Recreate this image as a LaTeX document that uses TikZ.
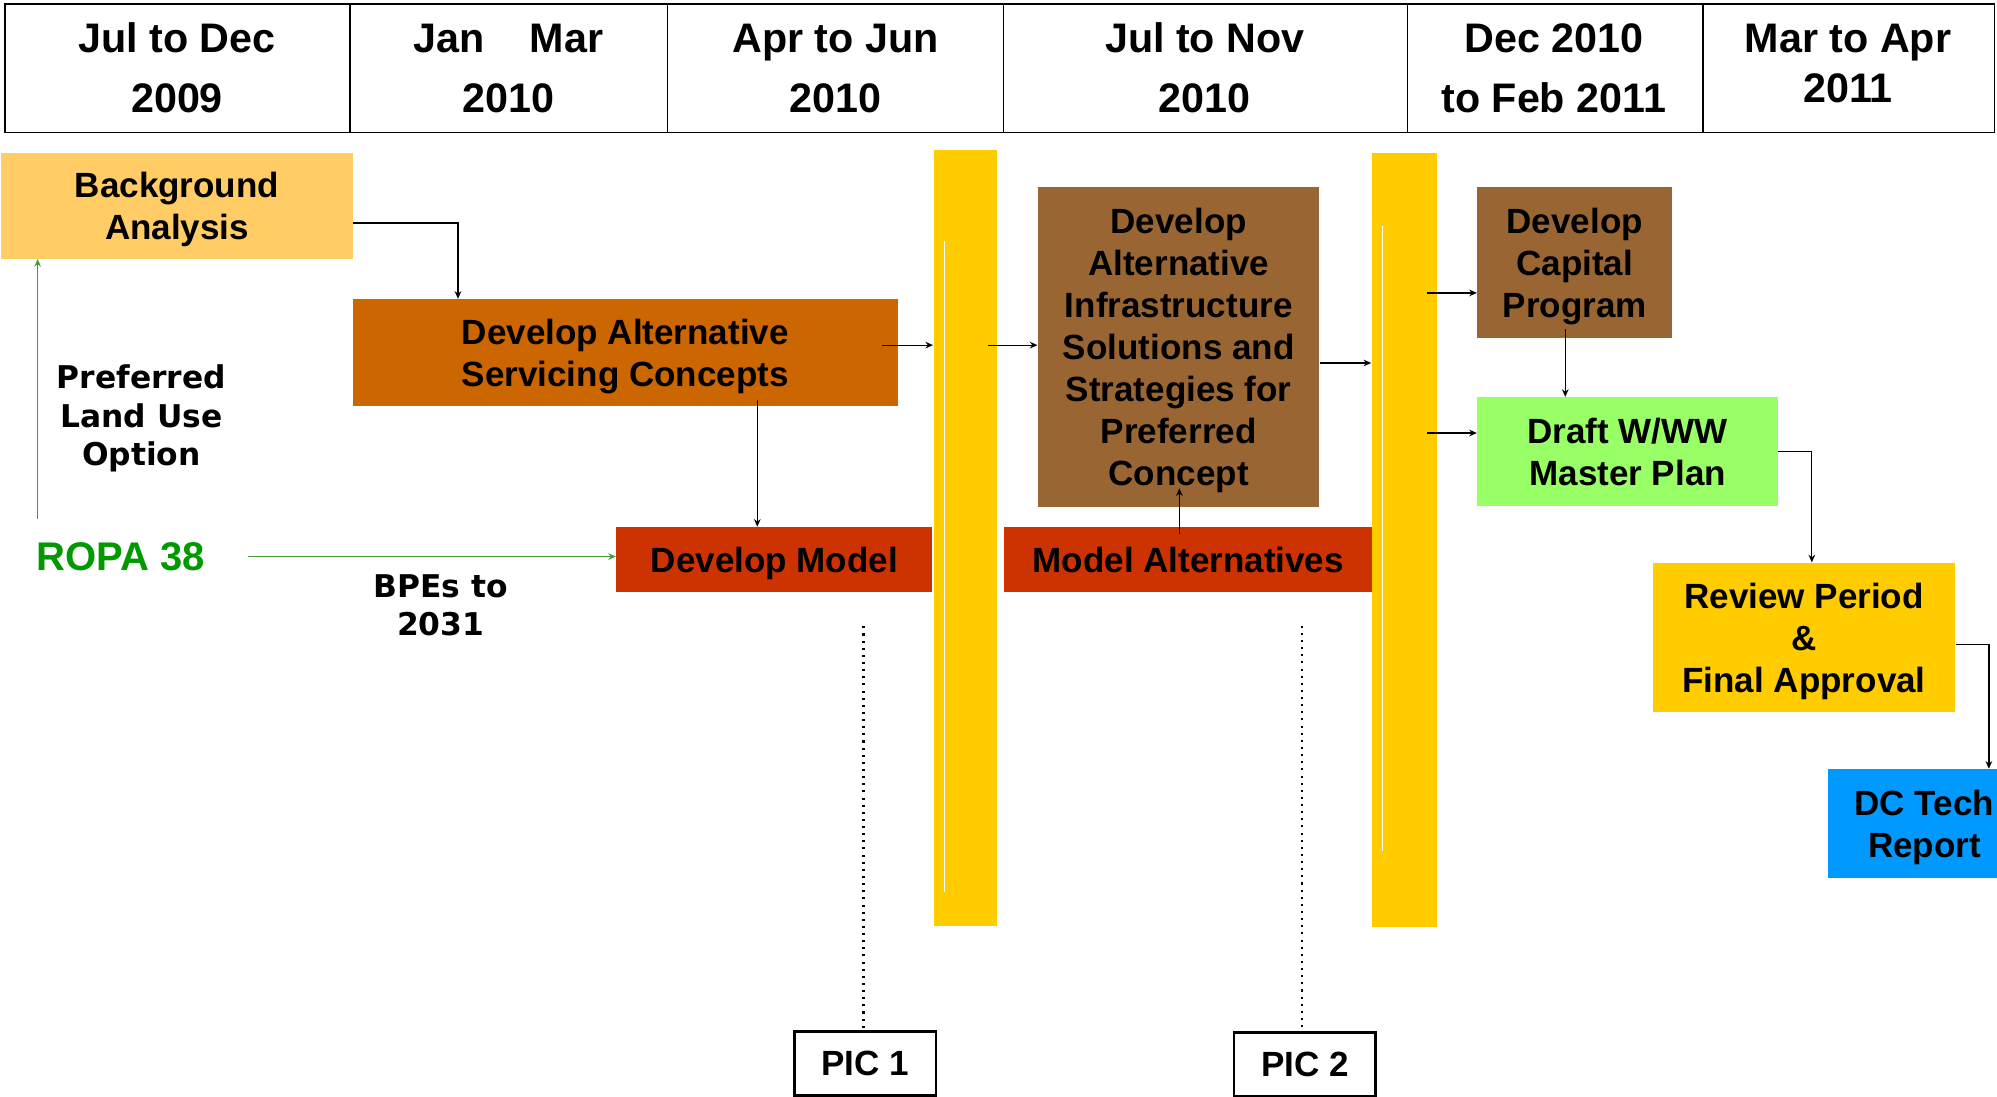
\documentclass[tikz,border=0pt]{standalone}
\usepackage{fontspec}
\setmainfont{Liberation Sans}
\newfontfamily\heavyfont{DejaVu Sans}
\usetikzlibrary{calc}
\usetikzlibrary{arrows.meta}

\definecolor{bgcol}{HTML}{FFCC66}
\definecolor{servcol}{HTML}{CC6600}
\definecolor{modelcol}{HTML}{CC3300}
\definecolor{barcol}{HTML}{FFCC00}
\definecolor{browncol}{HTML}{996633}
\definecolor{draftcol}{HTML}{99FF66}
\definecolor{dccol}{HTML}{0099FF}
\definecolor{ropagreen}{HTML}{009900}
\definecolor{arrgreen}{HTML}{449933}

\newcommand{\headfont}{\fontsize{16.2}{23.5}\selectfont\bfseries}
\newcommand{\boxfont}{\fontsize{13.75}{16.5}\selectfont\bfseries}
\newcommand{\notefont}{\heavyfont\fontsize{12.3}{15}\selectfont\bfseries}
\newcommand{\ropafont}{\fontsize{15.7}{18}\selectfont\bfseries}

\begin{document}
\begin{tikzpicture}[x=0.5pt, y=-0.5pt,
  head/.style={font=\headfont, align=center, inner sep=0pt},
  task/.style={font=\boxfont, align=center, inner sep=0pt, text depth=0pt},
  note/.style={font=\notefont, align=center, inner sep=0pt, text depth=0pt},
  bar/.style={fill=barcol, inner sep=0pt, minimum width=25pt},
  link/.style={-{Stealth[length=3pt,width=2.6pt]}, line width=0.5pt},
  glink/.style={link, draw=arrgreen, line width=0.6pt},
  picbox/.style={draw, line width=1pt, font=\boxfont, inner sep=0pt, minimum width=55.5pt, minimum height=25pt}]

  \useasboundingbox (0,0) rectangle (1568,861);
  \clip (0,0) rectangle (1568,861);

  % time line header
  \draw[line width=0.6pt] (4,3) rectangle (1566,104);
  \foreach \x in {275,524,788,1105,1337}
    \draw[line width=0.6pt] (\x,3) -- (\x,104);
  \foreach \x/\txt [count=\i] in {139/{Jul to Dec\\2009}, 399/{Jan\hspace{1.1em}Mar\\2010},
      656/{Apr to Jun\\2010}, 946/{Jul to Nov\\2010}, 1220/{Dec 2010\\to Feb 2011}}
    \node[head] (head\i) at (\x,53.5) {\txt};
  \node[head, font={\fontsize{16.2}{19.5}\selectfont\bfseries}] (head6) at (1451,50) {Mar to Apr\\2011};

  % tasks
  \node[task, fill=bgcol, minimum width=138pt, minimum height=41.5pt] (bg) at (139,161.5) {Background\\Analysis};
  \node[task, fill=servcol, minimum width=214pt, minimum height=42pt] (serv) at (491,277) {Develop Alternative\\Servicing Concepts};
  \node[task, fill=modelcol, minimum width=124pt, minimum height=25.5pt] (devmodel) at (608,439.5) {Develop Model};
  \node[task, fill=browncol, minimum width=110.5pt, minimum height=125.5pt] (infra) at (925.5,272.5)
    {Develop\\Alternative\\Infrastructure\\Solutions and\\Strategies for\\Preferred\\Concept};
  \node[task, fill=modelcol, minimum width=145pt, minimum height=25.5pt] (modalt) at (933,439.5) {Model Alternatives};
  \node[task, fill=browncol, minimum width=76.5pt, minimum height=59pt] (capital) at (1236.5,206) {Develop\\Capital\\Program};
  \node[task, fill=draftcol, minimum width=118pt, minimum height=42.5pt] (draft) at (1278,354.5) {Draft W/WW\\Master Plan};
  \node[task, fill=barcol, minimum width=118.5pt, minimum height=58.5pt] (review) at (1416.5,500.5) {Review Period\\\&\\Final Approval};
  \node[task, fill=dccol, minimum width=76pt, minimum height=42.5pt] (dctech) at (1511,646.5) {DC Tech\\Report};

  % milestone bars
  \node[bar, minimum height=304.5pt] (bar1) at (758,422.5) {};
  \node[bar, minimum width=25.5pt, minimum height=304pt] (bar2) at (1102.5,424) {};
  \draw[white, line width=0.4pt] ($(bar1.north west)+(9,72)$) -- ($(bar1.south west)+(9,-27)$);
  \draw[white, line width=0.4pt] ($(bar2.north west)+(9,58)$) -- ($(bar2.south west)+(9,-60)$);

  % side notes
  \node[font=\ropafont, text=ropagreen, inner sep=0pt] (ropa) at (95,437) {ROPA 38};
  \node[note] (landuse) at (111,326) {Preferred\\Land Use\\Option};
  \node[note] (bpes) at (346,475) {BPEs to\\2031};

  \node[picbox] (pic1) at (679.5,835) {PIC 1};
  \node[picbox] (pic2) at (1024.5,835.5) {PIC 2};

  % connectors
  \coordinate (servout) at ($(serv.east)+(-13,-6)$);
  \coordinate (bar1out) at ($(bar1.east |- servout)+(-8,0)$);
  \coordinate (infraout) at ($(infra.east)+(0,12.5)$);
  \coordinate (bar2a) at ($(bar2.east)+(-8,-194)$);
  \coordinate (bar2b) at ($(bar2.east)+(-8,-84)$);
  \coordinate (ropaup) at ($(ropa.north west)+(1,-18)$);
  \coordinate (ropaout) at ($(ropa.east)+(33,0)$);

  \draw[link] ($(bg.east)+(0,13.5)$) -| ($(serv.north west)+(83,0)$);
  \draw[link] ($(serv.south west)+(318,-5)$) -- ($(devmodel.north west)+(111,0)$);
  \draw[link] (servout) -- (bar1.west |- servout);
  \draw[link] (bar1out) -- (infra.west |- bar1out);
  \draw[link] (infraout) -- (bar2.west |- infraout);
  \draw[link] (bar2a) -- (capital.west |- bar2a);
  \draw[link] (bar2b) -- (draft.west |- bar2b);
  \draw[link] ($(capital.south)+(-7.5,-7)$) -- ($(draft.north)+(-49,0)$);
  \draw[link] ($(modalt.north)+(-7,6)$) -- ($(infra.south)+(0.5,-15)$);
  \draw[link] (draft.east) -| ($(review.north west)+(125,0)$);
  \draw[link] ($(review.east)+(0,5.5)$) -| ($(dctech.north west)+(127,0)$);

  \draw[glink] (ropaup) -- (bg.south -| ropaup);
  \draw[glink] (ropaout) -- (devmodel.west |- ropaout);

  \draw[dotted, line width=0.8pt] ($(pic1.north)+(-1.5,-2)$) -- ++(0,-316);
  \draw[dotted, line width=0.8pt] ($(pic2.north)+(-2.5,-3)$) -- ++(0,-316);

\end{tikzpicture}
\end{document}
